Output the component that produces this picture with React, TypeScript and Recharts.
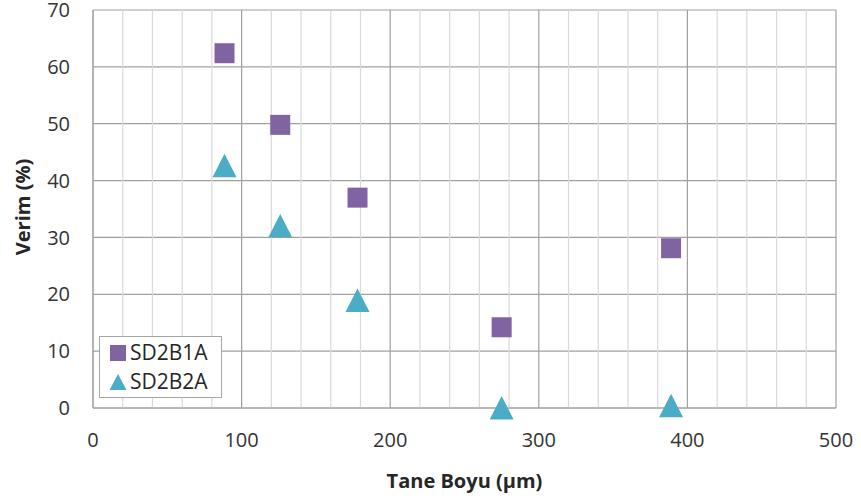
import React from "react";
import {
  ScatterChart,
  Scatter,
  XAxis,
  YAxis,
  CartesianGrid,
  Legend,
  ReferenceLine,
} from "recharts";

const grainSizes = [88.5, 126, 178, 275, 389];
const sd2b1a = [62.4, 49.8, 37.0, 14.2, 28.1];
const sd2b2a = [42.6, 32.0, 18.9, 0, 0.4];
const xTicks = [0, 100, 200, 300, 400, 500];
const xMinorTicks = [
  20, 40, 60, 80, 120, 140, 160, 180, 220, 240, 260, 280, 320, 340, 360, 380,
  420, 440, 460, 480,
];
const yTicks = [0, 10, 20, 30, 40, 50, 60, 70];
const seriesNames = ["SD2B1A", "SD2B2A"];

const PURPLE = "#8064A2";
const TEAL = "#4BACC6";
const FONT = "'Open Sans', sans-serif";

const data1 = grainSizes.map((x, i) => ({ x, y: sd2b1a[i] }));
const data2 = grainSizes.map((x, i) => ({ x, y: sd2b2a[i] }));

const SquareShape = (props: any) => {
  const { cx, cy } = props;
  if (cx == null || cy == null) return null;
  return <rect x={cx - 10} y={cy - 10} width={20} height={20} fill={PURPLE} />;
};

const TriangleShape = (props: any) => {
  const { cx, cy } = props;
  if (cx == null || cy == null) return null;
  const pts = `${cx},${cy - 12} ${cx + 12},${cy + 11.5} ${cx - 12},${cy + 11.5}`;
  return <polygon points={pts} fill={TEAL} />;
};

const LegendContent = () => {
  return (
    <div
      style={{
        width: 121,
        height: 59,
        border: "1px solid #a6a6a6",
        background: "#fff",
        fontFamily: FONT,
        fontSize: 21,
        color: "#262626",
        paddingTop: 1,
        boxSizing: "content-box",
      }}
    >
      {seriesNames.map((name, i) => (
        <div
          key={name}
          style={{
            display: "flex",
            alignItems: "center",
            height: 29,
            lineHeight: "29px",
          }}
        >
          <svg width={18} height={18} style={{ marginLeft: 9, marginRight: 3 }}>
            {i === 0 ? (
              <rect x={1} y={1} width={16} height={16} fill={PURPLE} />
            ) : (
              <polygon points="9,1 17.5,17 0.5,17" fill={TEAL} />
            )}
          </svg>
          <span>{name}</span>
        </div>
      ))}
    </div>
  );
};

const XTitle = (props: any) => {
  const vb = props.viewBox || {};
  return (
    <text
      x={vb.x + vb.width / 2}
      y={480}
      textAnchor="middle"
      dominantBaseline="central"
      fontFamily={FONT}
      fontWeight="bold"
      fontSize={20}
      fill="#262626"
    >
      Tane Boyu (µm)
    </text>
  );
};

const YTitle = (props: any) => {
  const vb = props.viewBox || {};
  const cx = 22;
  const cy = vb.y + vb.height / 2 - 2;
  return (
    <text
      x={cx}
      y={cy}
      transform={`rotate(-90, ${cx}, ${cy})`}
      textAnchor="middle"
      dominantBaseline="central"
      fontFamily={FONT}
      fontWeight="bold"
      fontSize={20}
      fill="#262626"
    >
      Verim (%)
    </text>
  );
};

export default function App() {
  return (
    <div style={{ position: "absolute", left: 0, top: 0, width: 861, height: 499, background: "#fff" }}>
      <ScatterChart
        width={861}
        height={499}
        margin={{ top: 10, right: 25, bottom: 0, left: 0 }}
      >
        <CartesianGrid stroke="#a0a0a0" strokeWidth={1.2} />
        {xMinorTicks.map((v) => (
          <ReferenceLine key={v} x={v} stroke="#d9d9d9" strokeWidth={1.2} />
        ))}
        <XAxis
          type="number"
          dataKey="x"
          domain={[0, 500]}
          ticks={xTicks}
          interval={0}
          height={91}
          tickLine={false}
          tickSize={0}
          tickMargin={25}
          axisLine={{ stroke: "#a0a0a0" }}
          tick={{ fontFamily: FONT, fontSize: 20, fill: "#333" }}
          label={<XTitle />}
        />
        <YAxis
          type="number"
          dataKey="y"
          domain={[0, 70]}
          ticks={yTicks}
          interval={0}
          width={93}
          tickLine={false}
          tickSize={0}
          tickMargin={23}
          axisLine={{ stroke: "#a0a0a0" }}
          tick={{ fontFamily: FONT, fontSize: 20, fill: "#333" }}
          label={<YTitle />}
        />
        <Legend
          layout="horizontal"
          verticalAlign="middle"
          align="center"
          content={<LegendContent />}
          wrapperStyle={{ left: 99, top: 336, width: 123, height: 61, bottom: "auto", right: "auto" }}
        />
        <Scatter
          name={seriesNames[0]}
          data={data1}
          fill={PURPLE}
          shape={<SquareShape />}
          isAnimationActive={false}
        />
        <Scatter
          name={seriesNames[1]}
          data={data2}
          fill={TEAL}
          shape={<TriangleShape />}
          isAnimationActive={false}
        />
      </ScatterChart>
    </div>
  );
}
